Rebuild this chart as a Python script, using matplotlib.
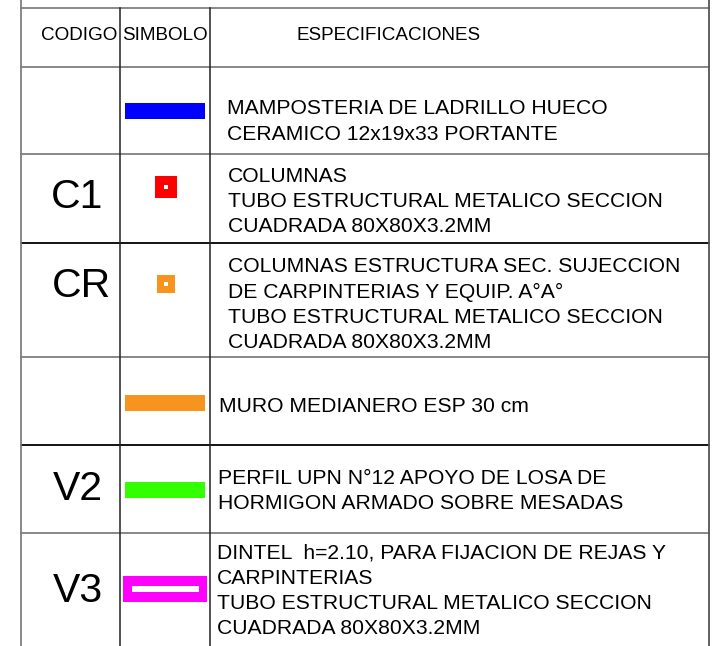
import matplotlib
matplotlib.use("Agg")
import matplotlib.pyplot as plt
from matplotlib.patches import Rectangle

plt.rcParams['font.family'] = ['Liberation Sans', 'DejaVu Sans']

headers = ["CODIGO", "SIMBOLO", "ESPECIFICACIONES"]
codes = ["", "C1", "CR", "", "V2", "V3"]
symbols = ["bar", "square", "square", "bar", "bar", "hollow"]
sym_colors = ["#0000ff", "#ff0000", "#f7941d", "#f7941d", "#33ff00", "#ff00ff"]
specs = [
    ["MAMPOSTERIA DE LADRILLO HUECO", "CERAMICO 12x19x33 PORTANTE"],
    ["COLUMNAS", "TUBO ESTRUCTURAL METALICO SECCION", "CUADRADA 80X80X3.2MM"],
    ["COLUMNAS ESTRUCTURA SEC. SUJECCION", "DE CARPINTERIAS Y EQUIP. A°A°",
     "TUBO ESTRUCTURAL METALICO SECCION", "CUADRADA 80X80X3.2MM"],
    ["MURO MEDIANERO ESP 30 cm"],
    ["PERFIL UPN N°12 APOYO DE LOSA DE", "HORMIGON ARMADO SOBRE MESADAS"],
    ["DINTEL  h=2.10, PARA FIJACION DE REJAS Y", "CARPINTERIAS",
     "TUBO ESTRUCTURAL METALICO SECCION", "CUADRADA 80X80X3.2MM"],
]

# layout (pixel space)
W, H = 716, 646
col_x = [21, 120, 210, 709]
row_y = [8, 67, 154, 243, 357, 445, 533, 646]
row_line_colors = ["#7f7f7f", "#7f7f7f", "#7f7f7f", "#000000", "#7f7f7f", "#000000", "#7f7f7f"]
spec_x = [227, 228, 228, 219, 218, 217]
spec_top = [109, 176, 267, 407, 478, 553]
code_pos = [None, (77, 197), (81, 286), None, (78, 489), (78, 591)]
sym_cy = [111, 187, 284, 403, 490, 589]
line_step = 25.2

fig = plt.figure(figsize=(W / 100, H / 100), dpi=100)
ax = fig.add_axes([0, 0, 1, 1])
ax.set_xlim(0, W)
ax.set_ylim(H, 0)
ax.axis("off")

# grid lines
for i, y in enumerate(row_y[:-1]):
    ax.plot([col_x[0], col_x[-1]], [y, y], color=row_line_colors[i], lw=1.3)
ax.plot([col_x[0], col_x[0]], [0, H], color="#7f7f7f", lw=1.3)
ax.plot([col_x[-1], col_x[-1]], [0, H], color="#555555", lw=1.3)
for x in col_x[1:-1]:
    ax.plot([x, x], [row_y[0], H], color="#222222", lw=1.1)

# header
ax.text(79, 35, headers[0], fontsize=13.6, ha="center", va="center")
ax.text(165, 35, headers[1], fontsize=13.6, ha="center", va="center")
ax.text(297, 35, headers[2], fontsize=13.6, ha="left", va="center")

# rows
for i in range(len(codes)):
    if code_pos[i] is not None:
        ax.text(code_pos[i][0], code_pos[i][1], codes[i], fontsize=29.5,
                ha="center", va="center")
    for j, line in enumerate(specs[i]):
        ax.text(spec_x[i], spec_top[i] + j * line_step, line, fontsize=15.2,
                ha="left", va="center")
    cy = sym_cy[i]
    c = sym_colors[i]
    if symbols[i] == "bar":
        ax.add_patch(Rectangle((125, cy - 8), 80, 16, color=c, lw=0))
    elif symbols[i] == "square":
        s = 22 if i == 1 else 18
        ax.add_patch(Rectangle((166 - s / 2, cy - s / 2), s, s, color=c, lw=0))
        ax.add_patch(Rectangle((164, cy - 2), 4, 4, color="white", lw=0))
    else:
        ax.add_patch(Rectangle((123, cy - 13), 84, 26, color=c, lw=0))
        ax.add_patch(Rectangle((132, cy - 3), 67, 6, color="white", lw=0))

fig.savefig("out.png", dpi=100)
